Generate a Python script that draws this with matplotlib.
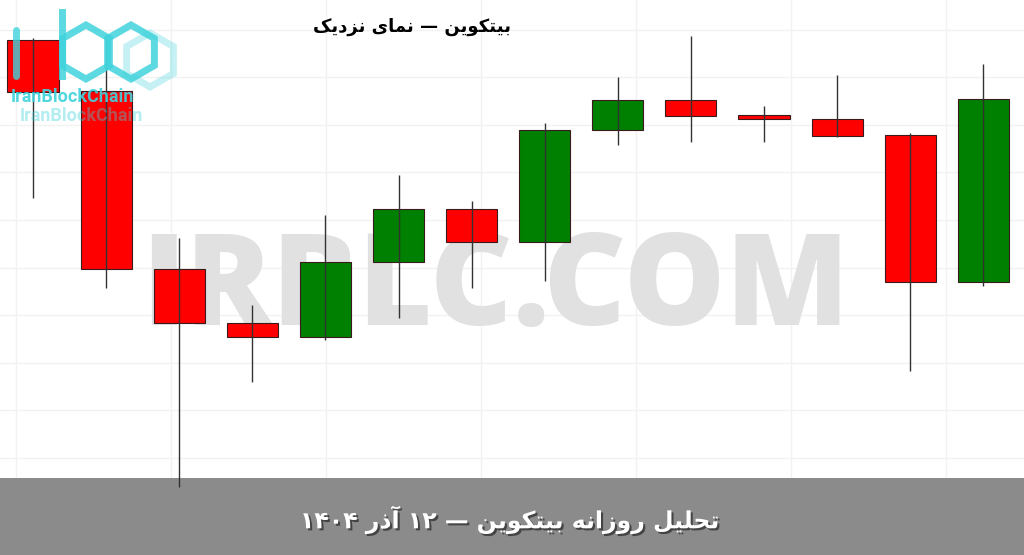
import re
import numpy as np
import matplotlib
matplotlib.use("Agg")
import matplotlib.pyplot as plt
from matplotlib.patches import Rectangle, RegularPolygon
import matplotlib.patheffects as pe

# متن ها
title_text = "بیتکوین — نمای نزدیک"
banner_text = "تحلیل روزانه بیتکوین — ۱۲ آذر ۱۴۰۴"
watermark = "IRBLC.COM"
logo_name = "IranBlockChain"

# داده های کندل (قیمت تقریبی)
opens  = [93100, 92590, 90810, 90270, 90130, 90880, 91410, 91080, 92200, 92500, 92350, 92310, 92150, 90680]
highs  = [93120, 93150, 91120, 90450, 91350, 91750, 91490, 92270, 92730, 93140, 92440, 92750, 92170, 92860]
lows   = [91520, 90620, 88630, 89680, 90100, 90320, 90620, 90690, 92050, 92080, 92080, 92130, 89790, 90640]
closes = [92580, 90810, 90270, 90130, 90880, 91410, 91080, 92200, 92500, 92340, 92310, 92140, 90680, 92510]

# شکل دادن حروف فارسی برای matplotlib (بدون raqm)
FORMS = {  # iso, fin, ini, med
    "ا": ("\uFE8D", "\uFE8E", None, None),
    "آ": ("\uFE81", "\uFE82", None, None),
    "د": ("\uFEA9", "\uFEAA", None, None),
    "ذ": ("\uFEAB", "\uFEAC", None, None),
    "ر": ("\uFEAD", "\uFEAE", None, None),
    "ز": ("\uFEAF", "\uFEB0", None, None),
    "و": ("\uFEED", "\uFEEE", None, None),
    "ب": ("\uFE8F", "\uFE90", "\uFE91", "\uFE92"),
    "ت": ("\uFE95", "\uFE96", "\uFE97", "\uFE98"),
    "ح": ("\uFEA1", "\uFEA2", "\uFEA3", "\uFEA4"),
    "ل": ("\uFEDD", "\uFEDE", "\uFEDF", "\uFEE0"),
    "م": ("\uFEE1", "\uFEE2", "\uFEE3", "\uFEE4"),
    "ن": ("\uFEE5", "\uFEE6", "\uFEE7", "\uFEE8"),
    "ه": ("\uFEE9", "\uFEEA", "\uFEEB", "\uFEEC"),
    "ک": ("\uFB8E", "\uFB8F", "\uFB90", "\uFB91"),
    "ی": ("\uFBFC", "\uFBFD", "\uFBFE", "\uFBFF"),
}


def fa(s):
    out = []
    for i, ch in enumerate(s):
        if ch not in FORMS:
            out.append(ch)
            continue
        prev = s[i - 1] if i > 0 else ""
        nxt = s[i + 1] if i + 1 < len(s) else ""
        jp = prev in FORMS and FORMS[prev][2] is not None
        jn = FORMS[ch][2] is not None and nxt in FORMS
        iso, fin, ini, med = FORMS[ch]
        out.append(med if jp and jn else fin if jp else ini if jn else iso)
    parts = re.split(r"([0-9۰-۹]+)", "".join(out))
    return "".join(p if re.fullmatch(r"[0-9۰-۹]+", p) else p[::-1] for p in reversed(parts))


W, H = 1024, 555
fig = plt.figure(figsize=(W / 100, H / 100), dpi=100)
fig.patch.set_facecolor("white")
ax = fig.add_axes([0, 0, 1, 1])

step = 73.1
x = np.arange(len(opens))
for i in x:
    o, h, l, c = opens[i], highs[i], lows[i], closes[i]
    color = "#008000" if c >= o else "#ff0000"
    ax.add_patch(Rectangle((i - 0.35, min(o, c)), 0.7, abs(c - o), facecolor=color,
                           edgecolor="#3a1a1a", linewidth=0.8, zorder=4))
ax.vlines(x, lows, highs, color="#333333", linewidth=1.0, zorder=5)

ax.set_xlim(-33 / step, (W - 33) / step)
ax.set_ylim(93500 - 10 * H, 93500)

# گرید کم رنگ
ax.set_yticks(np.arange(88920, 93500, 476))
ax.set_xticks(np.arange(-0.23, 14, 2.12))
ax.grid(color="#f2f2f2", linewidth=1.0)
ax.set_axisbelow(True)
ax.tick_params(length=0, labelleft=False, labelbottom=False)
for s in ax.spines.values():
    s.set_visible(False)

# واترمارک
ax.text(495 / W, 1 - 325 / H, watermark, transform=ax.transAxes, fontsize=92,
        family="Open Sans", weight="heavy", color="#e1e1e1", ha="center", va="baseline", zorder=1)

# نوار پایین
ax.add_patch(Rectangle((0, 0), 1, (H - 478) / H, transform=ax.transAxes,
                       facecolor="#8b8b8b", edgecolor="none", zorder=2))

fig.text(412 / W, 1 - 27 / H, fa(title_text), fontsize=13, weight="bold",
         family="DejaVu Sans", color="black", ha="center", va="center")
fig.text(510 / W, 1 - 520 / H, fa(banner_text), fontsize=17, weight="bold",
         family="DejaVu Sans", color="white", ha="center", va="center",
         path_effects=[pe.withSimplePatchShadow(offset=(1.5, -1.5), shadow_rgbFace="#333333", alpha=0.8)])

# لوگو
lax = fig.add_axes([0, 1 - 130 / H, 200 / W, 130 / H])
lax.set_xlim(0, 200)
lax.set_ylim(130, 0)
lax.axis("off")
cyan = "#3fd3dc"
lax.plot([16, 16], [30, 76], color=cyan, linewidth=5, alpha=0.8, solid_capstyle="round")
lax.plot([62, 62], [12, 76], color=cyan, linewidth=5, alpha=0.85)
lax.add_patch(RegularPolygon((86, 52), 6, radius=27, orientation=0, fill=False,
                             edgecolor=cyan, linewidth=5, alpha=0.85))
lax.add_patch(RegularPolygon((131, 52), 6, radius=27, orientation=0, fill=False,
                             edgecolor=cyan, linewidth=5, alpha=0.85))
lax.add_patch(RegularPolygon((150, 60), 6, radius=27, orientation=0, fill=False,
                             edgecolor=cyan, linewidth=5, alpha=0.3))
lax.text(11, 97, logo_name, fontsize=13, weight="bold", family="Roboto", color=cyan,
         alpha=0.9, va="center", ha="left")
lax.text(20, 116, logo_name, fontsize=13, weight="bold", family="Roboto", color=cyan,
         alpha=0.4, va="center", ha="left")

fig.savefig("out.png", dpi=100)
